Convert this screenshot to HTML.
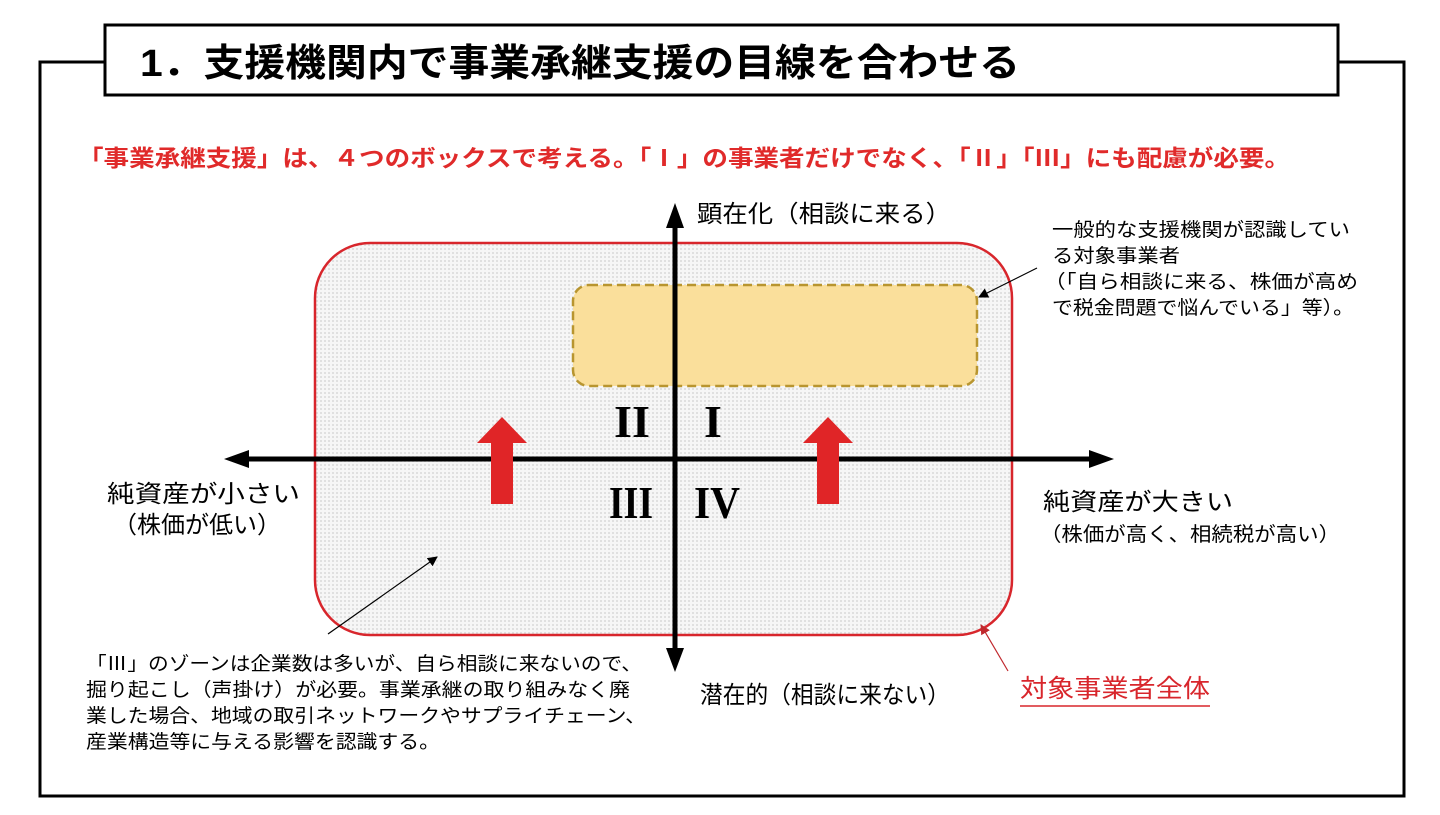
<!DOCTYPE html>
<html><head><meta charset="utf-8"><style>
body{margin:0;background:#fff;}
svg text{font-family:"Liberation Sans","Noto Sans CJK JP",sans-serif;}
</style></head><body>
<svg width="1440" height="810" viewBox="0 0 1440 810" xmlns="http://www.w3.org/2000/svg">
<defs>
<pattern id="p" width="4" height="4" patternUnits="userSpaceOnUse"><rect width="4" height="4" fill="#f6f6f6"/><rect width="2" height="2" fill="#e0e0e0"/></pattern>
<marker id="ah" markerWidth="10" markerHeight="10" refX="9" refY="5" orient="auto" markerUnits="userSpaceOnUse"><path d="M0,0 L10,5 L0,10 z" fill="#000"/></marker>
<marker id="ar" markerWidth="10" markerHeight="10" refX="9" refY="5" orient="auto" markerUnits="userSpaceOnUse"><path d="M0,0 L10,5 L0,10 z" fill="#c0282d"/></marker>
</defs>
<rect x="40" y="62" width="1364" height="734" fill="none" stroke="#000" stroke-width="3"/>
<rect x="105" y="25" width="1233" height="70" fill="#fff" stroke="#000" stroke-width="3"/>
<text x="140" y="76" font-size="38" font-weight="bold" textLength="880" lengthAdjust="spacingAndGlyphs">1．支援機関内で事業承継支援の目線を合わせる</text>
<text x="78" y="166" font-size="23" font-weight="bold" fill="#e02a2a" textLength="1212" lengthAdjust="spacingAndGlyphs">「事業承継支援」は、４つのボックスで考える。「Ⅰ」の事業者だけでなく、「Ⅱ」「Ⅲ」にも配慮が必要。</text>
<rect x="315" y="243" width="697" height="392" rx="55" fill="url(#p)" stroke="#d8262c" stroke-width="2.5"/>
<rect x="573" y="285" width="404" height="101" rx="16" fill="#fadf9b" stroke="#b8952f" stroke-width="2.5" stroke-dasharray="9,5"/>
<line x1="675" y1="225" x2="675" y2="650" stroke="#000" stroke-width="5"/>
<path d="M675,203 L666,228 L684,228 z"/><path d="M675,672 L666,648 L684,648 z"/>
<line x1="245" y1="459" x2="1092" y2="459" stroke="#000" stroke-width="5"/>
<path d="M224,459 L249,450 L249,468 z"/><path d="M1114,459 L1089,450 L1089,468 z"/>
<path d="M502,417 L527,443 L513,443 L513,504 L491,504 L491,443 L477,443 z" fill="#e02527"/>
<path d="M828,417 L853,443 L839,443 L839,504 L817,504 L817,443 L803,443 z" fill="#e02527"/>
<g font-size="46" font-weight="bold" style="font-family:'Liberation Serif',serif">
<text x="614" y="437" textLength="36" lengthAdjust="spacingAndGlyphs" style="font-family:'Liberation Serif',serif">II</text>
<text x="704" y="437" style="font-family:'Liberation Serif',serif">I</text>
<text x="609" y="518" textLength="44" lengthAdjust="spacingAndGlyphs" style="font-family:'Liberation Serif',serif">III</text>
<text x="694" y="518" textLength="46" lengthAdjust="spacingAndGlyphs" style="font-family:'Liberation Serif',serif">IV</text>
</g>
<text x="697" y="222" font-size="24" textLength="254" lengthAdjust="spacingAndGlyphs">顕在化（相談に来る）</text>
<text x="700" y="703" font-size="24" textLength="250" lengthAdjust="spacingAndGlyphs">潜在的（相談に来ない）</text>
<text x="107" y="502" font-size="24" textLength="193" lengthAdjust="spacingAndGlyphs">純資産が小さい</text>
<text x="113" y="533" font-size="24" textLength="168" lengthAdjust="spacingAndGlyphs">（株価が低い）</text>
<text x="1043" y="510" font-size="24" textLength="190" lengthAdjust="spacingAndGlyphs">純資産が大きい</text>
<text x="1040" y="541" font-size="20" textLength="300" lengthAdjust="spacingAndGlyphs">（株価が高く、相続税が高い）</text>
<g font-size="19">
<text x="1052" y="236" textLength="298" lengthAdjust="spacingAndGlyphs">一般的な支援機関が認識してい</text>
<text x="1052" y="262" textLength="128" lengthAdjust="spacingAndGlyphs">る対象事業者</text>
<text x="1044" y="288" textLength="314" lengthAdjust="spacingAndGlyphs">（「自ら相談に来る、株価が高め</text>
<text x="1052" y="314" textLength="302" lengthAdjust="spacingAndGlyphs">で税金問題で悩んでいる」等）。</text>
</g>
<line x1="1037" y1="268" x2="979" y2="297" stroke="#000" stroke-width="1.2" marker-end="url(#ah)"/>
<g font-size="19">
<text x="86" y="670" textLength="556" lengthAdjust="spacingAndGlyphs">「Ⅲ」のゾーンは企業数は多いが、自ら相談に来ないので、</text>
<text x="86" y="696" textLength="544" lengthAdjust="spacingAndGlyphs">掘り起こし（声掛け）が必要。事業承継の取り組みなく廃</text>
<text x="86" y="722" textLength="560" lengthAdjust="spacingAndGlyphs">業した場合、地域の取引ネットワークやサプライチェーン、</text>
<text x="86" y="748" textLength="354" lengthAdjust="spacingAndGlyphs">産業構造等に与える影響を認識する。</text>
</g>
<line x1="328" y1="634" x2="437" y2="557" stroke="#000" stroke-width="1.2" marker-end="url(#ah)"/>
<line x1="1008" y1="671" x2="981" y2="625" stroke="#c0282d" stroke-width="1.2" marker-end="url(#ar)"/>
<text x="1020" y="697" font-size="25" fill="#d8262c" textLength="190" lengthAdjust="spacingAndGlyphs">対象事業者全体</text>
<line x1="1020" y1="706" x2="1210" y2="706" stroke="#d8262c" stroke-width="1.5"/>
</svg>
</body></html>
